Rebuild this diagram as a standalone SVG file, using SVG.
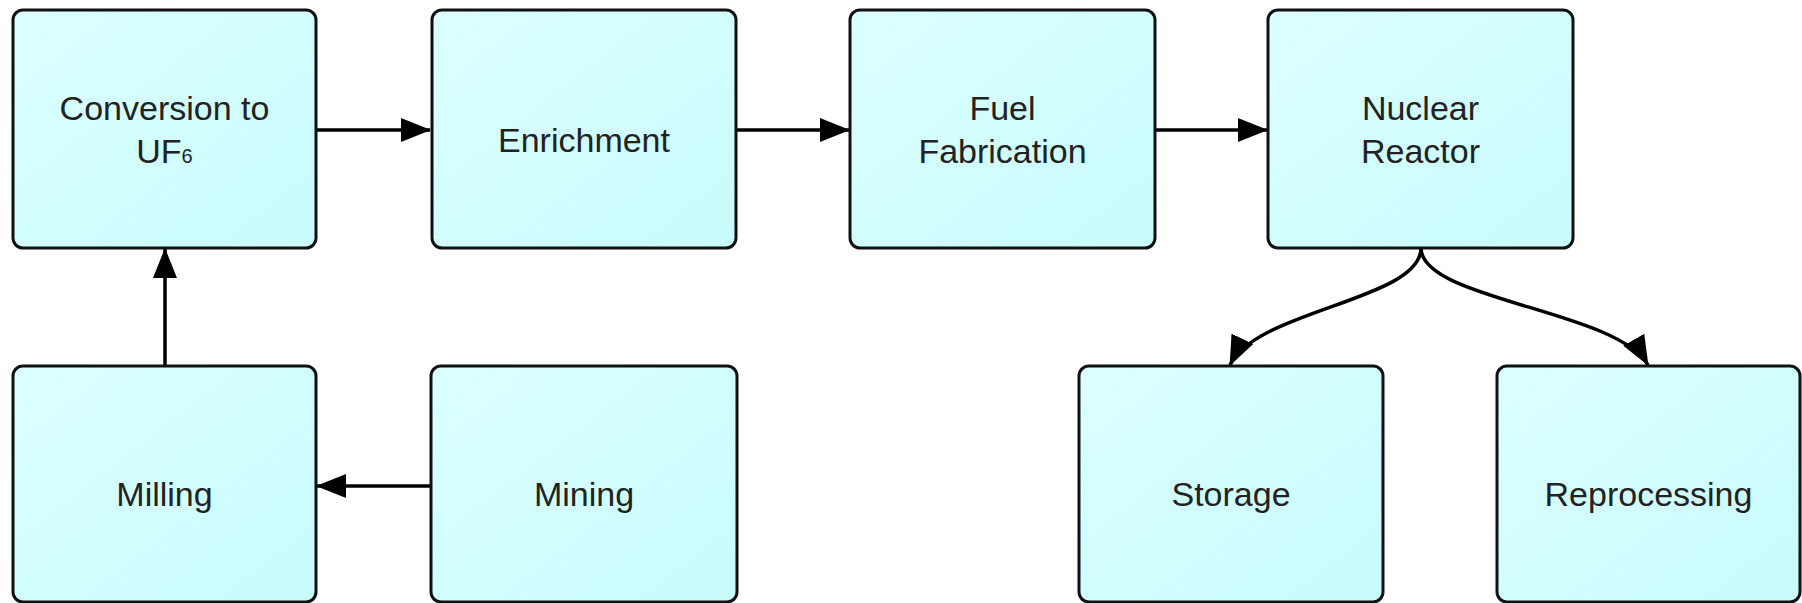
<svg xmlns="http://www.w3.org/2000/svg" width="1802" height="603" viewBox="0 0 1802 603">
<defs>
<linearGradient id="fill" x1="0" y1="0" x2="1" y2="1">
<stop offset="0" stop-color="#dcffff"/>
<stop offset="1" stop-color="#c8fbfb"/>
</linearGradient>
<marker id="arr" markerUnits="userSpaceOnUse" markerWidth="30" markerHeight="26" viewBox="0 0 30 26" refX="29" refY="13" orient="auto">
<path d="M0,1 L30,13 L0,25 Z" fill="#000"/>
</marker>
</defs>
<style>
.box{fill:url(#fill);stroke:#111;stroke-width:3}
.lbl{font-family:"Liberation Sans",Arial,sans-serif;font-size:34px;fill:#222;text-anchor:middle}
.sub{font-size:20px}
.con{fill:none;stroke:#000;stroke-width:3.5}
</style>
<rect width="1802" height="603" fill="#fff"/>
<g id="connectors">
<path class="con" d="M317,130 L430,130" marker-end="url(#arr)"/>
<path class="con" d="M736,130 L849,130" marker-end="url(#arr)"/>
<path class="con" d="M1155,130 L1267,130" marker-end="url(#arr)"/>
<path class="con" d="M165,366 L165,249" marker-end="url(#arr)"/>
<path class="con" d="M431,486 L317,486" marker-end="url(#arr)"/>
<path class="con" d="M1421,248 C1421,300 1256,310 1230,365" marker-end="url(#arr)"/>
<path class="con" d="M1421,248 C1421,300 1617,310 1648,365" marker-end="url(#arr)"/>
</g>
<g id="conversion">
<rect class="box" x="13" y="10" width="303" height="238" rx="10"/>
<text class="lbl" x="164.5" y="120">Conversion to</text>
<text class="lbl" x="164.5" y="163">UF<tspan class="sub">6</tspan></text>
</g>
<g id="enrichment">
<rect class="box" x="432" y="10" width="304" height="238" rx="10"/>
<text class="lbl" x="584" y="152">Enrichment</text>
</g>
<g id="fuel-fabrication">
<rect class="box" x="850" y="10" width="305" height="238" rx="10"/>
<text class="lbl" x="1002.5" y="120">Fuel</text>
<text class="lbl" x="1002.5" y="163">Fabrication</text>
</g>
<g id="nuclear-reactor">
<rect class="box" x="1268" y="10" width="305" height="238" rx="10"/>
<text class="lbl" x="1420.5" y="120">Nuclear</text>
<text class="lbl" x="1420.5" y="163">Reactor</text>
</g>
<g id="milling">
<rect class="box" x="13" y="366" width="303" height="236" rx="10"/>
<text class="lbl" x="164.5" y="506">Milling</text>
</g>
<g id="mining">
<rect class="box" x="431" y="366" width="306" height="236" rx="10"/>
<text class="lbl" x="584" y="506">Mining</text>
</g>
<g id="storage">
<rect class="box" x="1079" y="366" width="304" height="236" rx="10"/>
<text class="lbl" x="1231" y="506">Storage</text>
</g>
<g id="reprocessing">
<rect class="box" x="1497" y="366" width="303" height="236" rx="10"/>
<text class="lbl" x="1648.5" y="506">Reprocessing</text>
</g>
</svg>
